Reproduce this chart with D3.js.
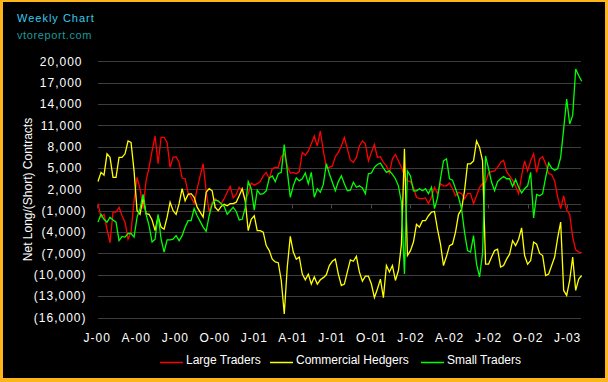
<!DOCTYPE html>
<html><head><meta charset="utf-8">
<script src="https://cdn.jsdelivr.net/npm/d3@7"></script>
<style>html,body{margin:0;padding:0;background:#000;} svg{display:block;}</style>
</head><body>
<svg id="c" width="608" height="382"></svg>
<script>
const startDate = "2000-01-04";
const largeTraders = [0,-1900,-1500,-3600,-5500,-1200,-1200,-500,-1700,-2600,
-5000,-4000,400,3700,2100,-700,3200,5100,7400,9500,
5600,9300,9300,8600,5100,6500,6600,5800,3600,3500,
1500,900,0,2100,3900,5600,1800,-1200,200,700,
300,0,700,1600,2400,800,1300,2300,1800,500,
1400,2900,2600,2800,3100,3900,4400,3500,4900,5100,
5100,6600,7000,5300,4300,4400,4200,4500,7200,6800,
7400,8400,9500,8100,10200,7400,5100,5100,5300,6600,
7200,8100,9300,7700,6100,5800,6500,8100,8800,8400,
6000,7200,8300,6500,6600,5800,5300,4300,6300,6900,
6000,5100,3900,3200,3100,2300,900,700,700,800,
0,900,2300,1400,2800,2500,2500,2900,2100,1100,
1600,1400,700,1400,1400,0,1100,2300,2800,3000,
4300,4500,4600,5100,5800,6100,4500,3900,3300,2400,
1400,3900,6000,4600,6000,7000,4400,6300,6600,5600,
4200,4100,3200,900,-700,1100,-900,-1500,-4700,-6500,
-6800,-6900];
const commercialHedgers = [3100,4400,4000,7000,6500,3700,3700,6500,6500,7000,
8800,8600,4600,-1000,-1500,900,-1400,-1500,-2300,-3800,
-1800,-3300,-3600,-1900,200,-1000,-1500,0,2100,400,
1300,1400,900,-500,-1200,-1900,1600,2100,1800,-500,
-1000,-400,-100,-300,0,0,200,1100,2100,400,
-3800,-2200,-1700,-3800,-3800,-4000,-5900,-6600,-7800,-8200,
-8300,-10800,-15500,-8900,-4600,-6800,-7800,-7500,-9900,-10700,
-9900,-11300,-10300,-11300,-10700,-10400,-10000,-8700,-8100,-7800,
-9900,-11500,-11300,-9600,-7900,-8100,-7400,-9600,-10900,-10200,
-10200,-11300,-13200,-12000,-10600,-13200,-8700,-9600,-8700,-10800,
-9400,-5700,7700,-7300,-6600,-5400,-2900,-3300,-2400,-2400,
-1700,-1200,-1100,-3600,-5700,-8700,-7400,-5900,-5700,-4000,
-1500,-800,1800,5600,5600,6000,8800,7900,6000,-8500,
-8500,-7500,-6600,-6400,-8900,-8700,-7800,-7100,-5200,-5900,
-5000,-3400,-7300,-8500,-8000,-5400,-5700,-7000,-7300,-10100,
-9900,-8700,-7500,-4800,-2600,-12200,-12900,-10800,-7500,-12200,
-10600,-10100];
const smallTraders = [-2600,-1500,-2200,-2600,-1900,-2300,-2600,-5200,-4600,-4700,
-4200,-4200,-4700,-1900,-700,1300,-1500,-3100,-5400,-5000,
-1500,-5000,-6800,-5100,-5100,-5000,-4500,-5200,-4500,-3300,
-2400,-2400,-700,-1700,-2500,-3300,-3900,-1700,-100,500,
400,0,-400,-1500,-1000,-500,-1100,-2300,-2200,-600,
3100,2100,-900,1900,1300,1400,1800,3600,3900,3100,
4200,4400,8300,4600,900,2500,3600,3200,3500,4300,
2800,4400,900,2100,1600,2700,5600,4200,3000,1800,
3100,3900,2800,1800,1900,3000,2300,2500,2200,1400,
4200,4300,5100,5500,5700,5000,4400,4600,4100,3500,
2500,200,-9900,4600,3900,1800,1800,2100,1800,2100,
1400,2300,-700,800,3500,6000,6300,3500,3300,2100,
900,-700,-4000,-6600,-6800,-4500,-8500,-10300,-7000,6700,
4900,3000,1800,3100,3500,3800,3500,3500,2400,3400,
2300,1500,2100,2500,4400,-2000,1300,1100,1400,3700,
5700,5000,4700,4900,6500,10500,14700,11200,12400,18900,
18000,17200];
const yTicks = [20000,17000,14000,11000,8000,5000,2000,-1000,-4000,-7000,-10000,-13000,-16000];
const seriesNames = ["Large Traders","Commercial Hedgers","Small Traders"];
const seriesColors = ["#ff0000","#ffff00","#00ff00"];
const chartTitle = "Weekly Chart";
const chartSite = "vtoreport.com";
const yTitle = "Net Long/(Short) Contracts";

const FONT = "'Liberation Sans', Arial, sans-serif";
const svg = d3.select("#c");
svg.append("rect").attr("width",608).attr("height",382).attr("fill","#fdb51a");
svg.append("rect").attr("x",3).attr("y",2).attr("width",602).attr("height",376).attr("fill","#000");

const t0 = d3.timeParse("%Y-%m-%d")(startDate);
const dates = largeTraders.map((_, i) => d3.timeDay.offset(t0, i*7));
const x = d3.scaleTime().domain([dates[0], dates[dates.length-1]]).range([98, 581.7]);
const y = d3.scaleLinear().domain([-16000, 20000]).range([317.5, 61.3]);

// gridlines
const grid = svg.append("g");
yTicks.forEach(v => {
  const yy = Math.round(y(v)) + 0.5;
  grid.append("line").attr("x1",98).attr("x2",581).attr("y1",yy).attr("y2",yy)
    .attr("stroke","#3c3c3c").attr("stroke-width",1);
});
// zero axis with quarterly ticks
const qTicks = x.ticks(d3.timeMonth.every(3)).concat([]);
const allQ = d3.timeMonth.every(3).range(new Date(2000,0,1), new Date(2003,1,1));
const y0 = Math.round(y(0)) + 0.5;
grid.append("line").attr("x1",98).attr("x2",581).attr("y1",y0).attr("y2",y0).attr("stroke","#3c3c3c");
allQ.forEach(d => {
  const xx = Math.round(x(d)) + 0.5;
  grid.append("line").attr("x1",xx).attr("x2",xx).attr("y1",y0).attr("y2",y0+4).attr("stroke","#4a4a4a");
});

// y labels
const fmt = d3.format(",");
yTicks.forEach(v => {
  const neg = v < 0;
  svg.append("text").attr("x", neg ? 86.5 : 82.5).attr("y", y(v)).attr("dy","0.36em")
    .attr("text-anchor","end").attr("fill","#fff").attr("font-family",FONT)
    .attr("font-size",12).attr("letter-spacing",1)
    .text(neg ? "(" + fmt(-v) + ")" : fmt(v));
});

// x labels
const mFmt = d3.timeFormat("%b"), yFmt = d3.timeFormat("%y");
allQ.forEach(d => {
  svg.append("text").attr("x", x(d) + 0.5).attr("y", 341.5).attr("text-anchor","middle")
    .attr("fill","#fff").attr("font-family",FONT).attr("font-size",12).attr("letter-spacing",1)
    .text(mFmt(d)[0] + "-" + yFmt(d));
});

// series
const series = [largeTraders, commercialHedgers, smallTraders];
const line = d3.line().x((d,i) => x(dates[i])).y(d => y(d));
series.forEach((s, k) => {
  svg.append("path").datum(s).attr("d", line).attr("fill","none")
    .attr("stroke", seriesColors[k]).attr("stroke-width",1.3).attr("stroke-linejoin","miter");
});

// titles
svg.append("text").attr("x",17).attr("y",22).attr("fill","#33ccee").attr("font-family",FONT)
  .attr("font-size",11).attr("letter-spacing",1).text(chartTitle);
svg.append("text").attr("x",17).attr("y",39).attr("fill","#1a9a9a").attr("font-family",FONT)
  .attr("font-size",11).attr("letter-spacing",0.6).text(chartSite);
svg.append("text").attr("transform","translate(31.5,189.5) rotate(-90)").attr("text-anchor","middle")
  .attr("fill","#fff").attr("font-family",FONT).attr("font-size",12).text(yTitle);

// legend
const legX = [160, 270, 421];
seriesNames.forEach((n, k) => {
  svg.append("line").attr("x1",legX[k]).attr("x2",legX[k]+23).attr("y1",362.5).attr("y2",362.5)
    .attr("stroke",seriesColors[k]).attr("stroke-width",1.5);
  svg.append("text").attr("x",legX[k]+26).attr("y",364).attr("fill","#fff").attr("font-family",FONT)
    .attr("font-size",12).text(n);
});
</script>
</body></html>
